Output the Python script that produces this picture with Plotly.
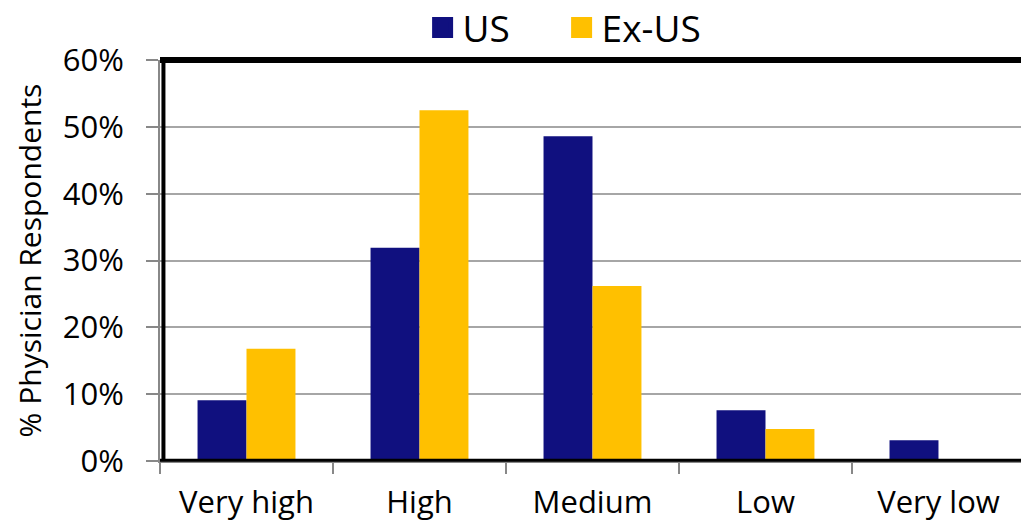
import plotly.graph_objects as go

categories = ["Very high", "High", "Medium", "Low", "Very low"]
us_values = [9.1, 31.9, 48.6, 7.6, 3.1]
exus_values = [16.8, 52.5, 26.2, 4.8, 0.0]
y_ticks = [0, 10, 20, 30, 40, 50, 60]
y_tick_labels = ["0%", "10%", "20%", "30%", "40%", "50%", "60%"]

US_COLOR = "#10107F"
EXUS_COLOR = "#FFC000"
FONT = "'Open Sans', 'Noto Sans', sans-serif"

fig = go.Figure()
fig.add_trace(go.Bar(x=categories, y=us_values, name="US", marker_color=US_COLOR,
                     marker_line_width=0, showlegend=False))
fig.add_trace(go.Bar(x=categories, y=exus_values, name="Ex-US", marker_color=EXUS_COLOR,
                     marker_line_width=0, showlegend=False))
# legend entries with larger square symbols
fig.add_trace(go.Scatter(x=[None], y=[None], mode="markers", name="US",
                         marker=dict(symbol="square", size=22, color=US_COLOR,
                                     line=dict(color=US_COLOR, width=5))))
fig.add_trace(go.Scatter(x=[None], y=[None], mode="markers", name="Ex-US",
                         marker=dict(symbol="square", size=22, color=EXUS_COLOR,
                                     line=dict(color=EXUS_COLOR, width=5))))

fig.update_layout(
    width=1021, height=524,
    margin=dict(l=160, r=0, t=60, b=63, autoexpand=False),
    paper_bgcolor="white", plot_bgcolor="white",
    barmode="group", bargap=0.434, bargroupgap=0,
    font=dict(family=FONT, size=31, color="black"),
    legend=dict(orientation="h", x=0.305, xanchor="left", y=1.08, yanchor="middle",
                font=dict(size=37), itemsizing="trace", itemwidth=30,
                entrywidth=94, entrywidthmode="pixels",
                traceorder="normal", bgcolor="rgba(0,0,0,0)"),
    showlegend=True,
)
fig.update_xaxes(
    type="category", range=[-0.5, 4.477], automargin=False,
    showline=True, linecolor="#888888", linewidth=2,
    ticks="outside", tickson="boundaries", ticklen=11, tickcolor="#888888", tickwidth=2,
    showgrid=False, tickfont=dict(size=31), ticklabelstandoff=13,
)
fig.update_yaxes(
    range=[0, 60], tickvals=y_ticks, ticktext=y_tick_labels, automargin=False,
    showgrid=True, gridcolor="#A6A6A6", gridwidth=2,
    showline=True, linecolor="#888888", linewidth=2,
    ticks="outside", ticklen=12, tickcolor="#888888", tickwidth=2,
    tickfont=dict(size=31), ticklabelstandoff=16,
    title=dict(text="% Physician Respondents", font=dict(size=30), standoff=12),
    zeroline=False,
)
# chart frame: thick black top and left, thin black bottom
fig.add_shape(type="line", xref="paper", yref="paper", x0=0, x1=1, y0=1, y1=1,
              line=dict(color="black", width=6), layer="above")
fig.add_shape(type="line", xref="paper", yref="paper", x0=0.004, x1=0.004, y0=0, y1=1,
              line=dict(color="black", width=4), layer="above")
fig.add_shape(type="line", xref="paper", yref="paper", x0=0, x1=1, y0=0.002, y1=0.002,
              line=dict(color="black", width=3), layer="above")

fig.write_html("out.html")
